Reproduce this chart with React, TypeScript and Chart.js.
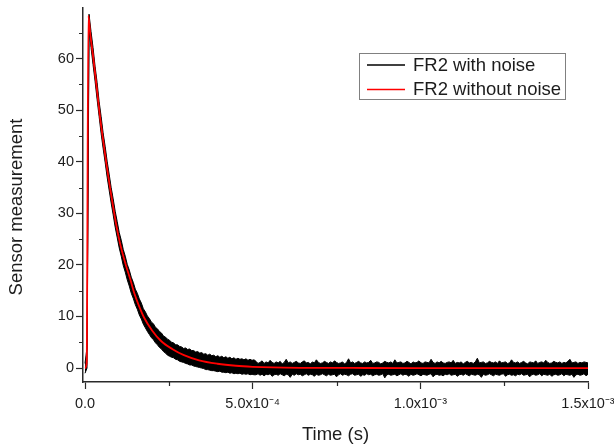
import React, { useEffect, useRef } from "react";
import { Chart, registerables } from "chart.js";

Chart.register(...registerables);

// ---------- data ----------
const SERIES_NAMES = ["FR2 with noise", "FR2 without noise"];

// noisy record: upper and lower edge of the noise band, on a regular time grid
const NOISY_START = 0;
const NOISY_STEP = 6e-6;
const BAND_UPPER = [
  0.9, 4.0, 68.6, 65.2, 62.1, 58.5, 55.4, 51.7, 48.8, 45.6,
  43.0, 40.1, 37.6, 35.0, 32.8, 30.4, 28.4, 26.3, 24.8, 23.0,
  21.7, 20.1, 19.0, 17.6, 16.6, 15.3, 14.5, 13.4, 12.6, 11.5,
  10.9, 10.1, 9.6, 8.9, 8.6, 7.9, 7.6, 7.1, 6.8, 6.2,
  6.0, 5.6, 5.4, 5.0, 4.9, 4.5, 4.5, 4.2, 4.1, 3.8,
  3.9, 3.6, 3.7, 3.4, 3.4, 3.1, 3.2, 2.9, 3.0, 2.7,
  2.8, 2.5, 2.7, 2.4, 2.5, 2.2, 2.4, 2.1, 2.3, 2.0,
  2.2, 1.9, 2.1, 1.8, 2.0, 1.7, 1.9, 1.7, 1.8, 1.6,
  1.8, 1.5, 1.7, 1.5, 1.6,
  1.3, 0.9, 1.1, 1.4, 0.9, 1.2, 1.0, 1.5, 1.1, 0.9,
  1.2, 1.0, 1.3, 0.8, 1.1, 1.7, 1.0, 1.2, 0.9, 1.1,
  1.3, 1.0, 0.9, 1.2, 1.4, 1.0, 1.1, 0.8, 1.2, 1.0,
  1.6, 1.1, 0.9, 1.0, 1.3, 1.1, 0.9, 1.2, 1.0, 1.4,
  1.1, 0.9, 1.0, 1.2, 0.8, 1.1, 1.8, 1.0, 1.2, 0.9,
  1.1, 1.3, 1.0, 0.9, 1.2, 1.0, 1.1, 1.5, 0.9, 1.0,
  1.2, 1.1, 0.8, 1.0, 1.3, 1.1, 1.0, 1.2, 0.9, 1.6,
  1.0, 1.1, 1.2, 0.9, 1.0, 1.3, 1.1, 0.8, 1.2, 1.0,
  1.1, 1.4, 1.0, 0.9, 1.2, 1.1, 1.0, 1.7, 1.1, 0.9,
  1.2, 1.0, 1.3, 1.0, 0.9, 1.1, 1.2, 1.0, 1.5, 0.9,
  1.1, 1.0, 1.2, 0.8, 1.1, 1.3, 1.0, 1.1, 0.9, 1.2,
  1.9, 1.0, 1.1, 1.2, 0.9, 1.0, 1.3, 1.1, 1.0, 1.2,
  0.9, 1.4, 1.0, 1.1, 1.2, 0.9, 1.0, 1.6, 1.1, 1.0,
  1.2, 0.9, 1.1, 1.3, 1.0, 0.8, 1.2, 1.1, 1.0, 1.4,
  0.9, 1.1, 1.2, 1.0, 1.5, 1.1, 0.9, 1.0, 1.3, 1.1,
  1.0, 1.2, 0.9, 1.1, 1.0, 1.3, 1.7, 1.0, 1.1, 1.2,
  0.9, 1.1, 1.0, 1.2, 1.1, 1.0,
];
const BAND_LOWER = [
  -1.0, 0.0, 65.6, 62.1, 58.8, 55.6, 52.1, 48.8, 45.5, 42.6,
  39.9, 37.0, 34.5, 32.0, 29.7, 27.3, 25.3, 23.3, 21.7, 19.9,
  18.6, 17.1, 15.9, 14.5, 13.5, 12.3, 11.4, 10.3, 9.5, 8.5,
  7.8, 7.1, 6.5, 5.9, 5.5, 4.9, 4.5, 4.0, 3.7, 3.2,
  2.9, 2.5, 2.3, 2.1, 2.0, 1.7, 1.6, 1.3, 1.2, 1.1,
  0.9, 0.8, 0.6, 0.6, 0.4, 0.3, 0.2, 0.1, 0.0, -0.1,
  -0.3, -0.3, -0.4, -0.5, -0.5, -0.6, -0.7, -0.6, -0.8, -0.8,
  -0.9, -0.8, -1.0, -0.9, -1.1, -1.0, -1.1, -1.0, -1.2, -1.1,
  -1.2, -1.1, -1.3, -1.2, -1.3,
  -1.3, -1.1, -1.4, -1.2, -1.5, -1.2, -1.3, -1.1, -1.6, -1.3,
  -1.2, -1.4, -1.1, -1.3, -1.5, -1.2, -1.3, -1.8, -1.2, -1.4,
  -1.1, -1.3, -1.2, -1.5, -1.3, -1.1, -1.4, -1.2, -1.3, -1.6,
  -1.2, -1.4, -1.3, -1.1, -1.3, -1.5, -1.2, -1.4, -1.3, -1.2,
  -1.7, -1.3, -1.1, -1.4, -1.2, -1.3, -1.5, -1.2, -1.1, -1.4,
  -1.3, -1.2, -1.6, -1.3, -1.4, -1.1, -1.3, -1.2, -1.5, -1.3,
  -1.2, -1.4, -1.3, -1.1, -1.9, -1.3, -1.2, -1.4, -1.3, -1.2,
  -1.5, -1.3, -1.1, -1.4, -1.2, -1.3, -1.6, -1.2, -1.4, -1.3,
  -1.1, -1.3, -1.5, -1.2, -1.3, -1.4, -1.2, -1.1, -1.7, -1.3,
  -1.2, -1.4, -1.3, -1.5, -1.2, -1.3, -1.1, -1.4, -1.3, -1.2,
  -1.6, -1.3, -1.2, -1.4, -1.1, -1.3, -1.5, -1.2, -1.3, -1.4,
  -1.2, -1.3, -1.8, -1.2, -1.4, -1.3, -1.1, -1.3, -1.5, -1.2,
  -1.3, -1.4, -1.2, -1.1, -1.6, -1.3, -1.2, -1.4, -1.3, -1.5,
  -1.2, -1.3, -1.1, -1.4, -1.3, -1.2, -1.7, -1.3, -1.2, -1.4,
  -1.3, -1.1, -1.5, -1.2, -1.3, -1.4, -1.2, -1.6, -1.3, -1.2,
  -1.4, -1.3, -1.1, -1.5, -1.2, -1.3, -1.4, -1.2, -1.8, -1.3,
  -1.2, -1.4, -1.3, -1.1, -1.5, -1.2,
];

// noise-free model curve
const CLEAN_TIMES = [
  0, 5e-6, 1.0e-5, 1.6e-5, 2.4e-5, 3.2e-5, 3.9e-5, 4.6e-5, 5.4e-5, 6.4e-5,
  7.4e-5, 8.4e-5, 9.3e-5, 1.05e-4, 1.23e-4, 1.35e-4, 1.47e-4, 1.6e-4, 1.76e-4, 2.0e-4,
  2.26e-4, 2.6e-4, 2.95e-4, 3.4e-4, 3.95e-4, 4.5e-4, 5.0e-4, 5.6e-4, 6.5e-4, 8.0e-4,
  1.0e-3, 1.5e-3,
];
const CLEAN_VALUES = [
  0, 1, 68.3, 64.5, 60.5, 56, 52, 48, 44.2, 39.5,
  35.2, 31.2, 27.8, 24, 19.7, 17.2, 14.5, 12.2, 9.8, 7.3,
  5.3, 3.7, 2.5, 1.5, 0.84, 0.45, 0.25, 0.12, 0.05, 0.02,
  0, 0,
];

const X_RANGE = [-6e-6, 1.5e-3];
const Y_RANGE = [-2.7, 69.8];
const X_TICKS = [0, 5e-4, 1e-3, 1.5e-3];
const X_TICK_LABELS = ["0.0", "5.0x10\u207B\u2074", "1.0x10\u207B\u00B3", "1.5x10\u207B\u00B3"];
const X_MINOR = [2.5e-4, 7.5e-4, 1.25e-3];
const Y_TICKS = [0, 10, 20, 30, 40, 50, 60];
const Y_TICK_LABELS = ["0", "10", "20", "30", "40", "50", "60"];
const Y_MINOR = [5, 15, 25, 35, 45, 55, 65];
const X_TITLE = "Time (s)";
const Y_TITLE = "Sensor measurement";

// ---------- styles ----------
const FONT = "'Liberation Sans', Arial, Helvetica, sans-serif";
const AXIS_COLOR = "#2a2a2a";
const TEXT_COLOR = "#1c1c1c";
const SERIES_COLORS = ["#000000", "#ff0000"];

const minorTicksPlugin = {
  id: "minorTicks",
  afterDraw(chart: any) {
    const { ctx, chartArea, scales } = chart;
    ctx.save();
    ctx.strokeStyle = AXIS_COLOR;
    ctx.lineWidth = 1.2;
    ctx.beginPath();
    X_MINOR.forEach((v) => {
      const px = Math.round(scales.x.getPixelForValue(v)) + 0.5;
      ctx.moveTo(px, chartArea.bottom);
      ctx.lineTo(px, chartArea.bottom + 4);
    });
    Y_MINOR.forEach((v) => {
      const py = Math.round(scales.y.getPixelForValue(v)) + 0.5;
      ctx.moveTo(chartArea.left - 4, py);
      ctx.lineTo(chartArea.left, py);
    });
    ctx.stroke();
    ctx.restore();
  },
};

const yTitlePlugin = {
  id: "yTitle",
  afterDraw(chart: any) {
    const { ctx, chartArea } = chart;
    ctx.save();
    ctx.translate(17, (chartArea.top + chartArea.bottom) / 2 + 12);
    ctx.rotate(-Math.PI / 2);
    ctx.font = `18.5px ${FONT}`;
    ctx.fillStyle = TEXT_COLOR;
    ctx.textAlign = "center";
    ctx.textBaseline = "middle";
    ctx.fillText(Y_TITLE, 0, 0);
    ctx.restore();
  },
};

const legendBoxPlugin = {
  id: "legendBox",
  afterDraw(chart: any) {
    const { ctx } = chart;
    const box = { left: 359.5, top: 53.5, width: 206, height: 46 };
    ctx.save();
    ctx.fillStyle = "#ffffff";
    ctx.fillRect(box.left, box.top, box.width, box.height);
    ctx.strokeStyle = "#808080";
    ctx.lineWidth = 1;
    ctx.strokeRect(box.left, box.top, box.width, box.height);
    ctx.font = `18.5px ${FONT}`;
    ctx.textAlign = "left";
    ctx.textBaseline = "middle";
    const items = chart.data.datasets.filter((ds: any) => ds.label);
    items.forEach((ds: any, i: number) => {
      const y = box.top + 11.5 + i * 24.5;
      ctx.strokeStyle = ds.borderColor;
      ctx.lineWidth = 1.5;
      ctx.beginPath();
      ctx.moveTo(367, y);
      ctx.lineTo(405, y);
      ctx.stroke();
      ctx.fillStyle = TEXT_COLOR;
      ctx.fillText(ds.label, 413, y + 0.5);
    });
    ctx.restore();
  },
};

export default function App() {
  const canvasRef = useRef<HTMLCanvasElement | null>(null);

  useEffect(() => {
    if (!canvasRef.current) return;
    const upper = BAND_UPPER.map((v, i) => ({ x: NOISY_START + i * NOISY_STEP, y: v }));
    const lower = BAND_LOWER.map((v, i) => ({ x: NOISY_START + i * NOISY_STEP, y: v }));
    const clean = CLEAN_TIMES.map((t, i) => ({ x: t, y: CLEAN_VALUES[i] }));

    const chart = new Chart(canvasRef.current, {
      type: "line",
      data: {
        datasets: [
          {
            label: SERIES_NAMES[0],
            data: upper,
            borderColor: SERIES_COLORS[0],
            backgroundColor: SERIES_COLORS[0],
            borderWidth: 1,
            pointRadius: 0,
            tension: 0,
            fill: "+1",
            order: 2,
          },
          {
            label: "",
            data: lower,
            borderColor: SERIES_COLORS[0],
            backgroundColor: SERIES_COLORS[0],
            borderWidth: 1,
            pointRadius: 0,
            tension: 0,
            fill: false,
            order: 2,
          },
          {
            label: SERIES_NAMES[1],
            data: clean,
            borderColor: SERIES_COLORS[1],
            backgroundColor: SERIES_COLORS[1],
            borderWidth: 1.8,
            pointRadius: 0,
            cubicInterpolationMode: "monotone",
            fill: false,
            order: 1,
          },
        ],
      },
      options: {
        animation: false,
        responsive: false,
        devicePixelRatio: 1,
        layout: { padding: { top: 8, right: 26, left: 0, bottom: 0 } },
        plugins: { legend: { display: false }, tooltip: { enabled: false } },
        scales: {
          x: {
            type: "linear",
            min: X_RANGE[0],
            max: X_RANGE[1],
            afterBuildTicks: (scale: any) => {
              scale.ticks = X_TICKS.map((v) => ({ value: v }));
            },
            afterFit: (scale: any) => {
              scale.height = 65;
              scale.paddingLeft = 0;
              scale.paddingRight = 0;
            },
            ticks: {
              autoSkip: false,
              maxRotation: 0,
              padding: 6,
              color: TEXT_COLOR,
              font: { family: FONT, size: 14.5 },
              callback: (v: any) => {
                const i = X_TICKS.findIndex((t) => Math.abs(t - Number(v)) < 1e-9);
                return i >= 0 ? X_TICK_LABELS[i] : "";
              },
            },
            grid: {
              display: true,
              drawOnChartArea: false,
              drawTicks: true,
              tickLength: 7,
              tickColor: AXIS_COLOR,
              tickWidth: 1.2,
            },
            border: { display: true, color: AXIS_COLOR, width: 1.5 },
            title: {
              display: true,
              text: X_TITLE,
              color: TEXT_COLOR,
              font: { family: FONT, size: 18.5 },
              padding: { top: 0, bottom: 1 },
            },
          },
          y: {
            type: "linear",
            min: Y_RANGE[0],
            max: Y_RANGE[1],
            afterBuildTicks: (scale: any) => {
              scale.ticks = Y_TICKS.map((v) => ({ value: v }));
            },
            afterFit: (scale: any) => {
              scale.width = 83;
              scale.paddingTop = 0;
              scale.paddingBottom = 0;
            },
            ticks: {
              autoSkip: false,
              padding: 2,
              color: TEXT_COLOR,
              font: { family: FONT, size: 14.5 },
              callback: (v: any) => {
                const i = Y_TICKS.indexOf(Number(v));
                return i >= 0 ? Y_TICK_LABELS[i] : "";
              },
            },
            grid: {
              display: true,
              drawOnChartArea: false,
              drawTicks: true,
              tickLength: 7,
              tickColor: AXIS_COLOR,
              tickWidth: 1.2,
            },
            border: { display: true, color: AXIS_COLOR, width: 1.5 },
            title: { display: false },
          },
        },
      },
      plugins: [minorTicksPlugin, yTitlePlugin, legendBoxPlugin],
    } as any);

    return () => chart.destroy();
  }, []);

  return (
    <div style={{ position: "absolute", left: 0, top: 0, width: 614, height: 447, background: "#ffffff" }}>
      <canvas ref={canvasRef} width={614} height={447} style={{ width: 614, height: 447, display: "block" }} />
    </div>
  );
}
